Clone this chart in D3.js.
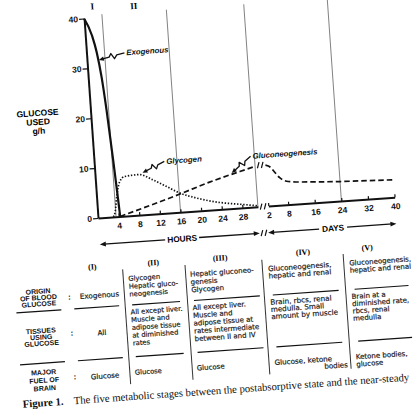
<!DOCTYPE html>
<html>
<head>
<meta charset="utf-8">
<title>Glucose used: five metabolic stages</title>
<script src="https://d3js.org/d3.v7.min.js"></script>
<style>
  body { margin: 0; background: #fff; }
  svg { display: block; }
  .axis path { stroke: #111; stroke-width: 2; }
  .axis line { stroke: #111; stroke-width: 1.2; }
  .axis text { font: bold 8.5px "Liberation Sans", sans-serif; fill: #111; }
  .cell { font-family: "DejaVu Sans", sans-serif; fill: #1c1c1c; stroke: #1c1c1c; stroke-width: 0.2px; }
  .rowlab { font: bold 7px "Liberation Sans", sans-serif; fill: #111; }
  .curvelab { font: italic bold 7.8px "Liberation Sans", sans-serif; fill: #111; }
</style>
</head>
<body>
<div id="chart"></div>
<script>

// values (g/h of glucose used)
var yTicks = [0, 10, 20, 30, 40];
var hourTicks = [4, 8, 12, 16, 20, 24, 28];
var dayTicks = [2, 8, 16, 24, 32, 40];

// [hour, g/h]
var exogenous = [[0, 40], [1.3, 36.5], [2, 33], [2.6, 28], [3.1, 21.5], [3.7, 11.5], [4.1, 4], [4.3, 0]];
var glycogen = [[3, 0], [3.4, 1], [3.9, 4], [4.7, 7], [5.7, 7.9], [8.5, 8.1], [11, 6.9], [13.7, 5.3],
                [16, 3.9], [19.3, 2.6], [23.7, 1.4], [28, 0.7], [31, 0.2]];
var gluconeoHours = [[4.3, 0], [16, 3.6], [22, 5.6], [28, 7.3], [31, 8.1]];
// [day, g/h]
var gluconeoDays = [[2, 8.2], [3.5, 7.7], [4.7, 6.6], [6, 5.5], [8, 4.7], [10, 4.5], [16, 4.2],
                    [24, 3.9], [32, 3.7], [40, 3.5]];

// stage boundaries (hours, then days); only the first two stage numerals show above the crop
var stageHours = [3.5, 16, 31];
var stageDays = [24];
var stageNames = ["I", "II"];

// table below the graph
var tableHeads = ["(I)", "(II)", "(III)", "(IV)", "(V)"];
var rowLabels = [["ORIGIN", "OF BLOOD", "GLUCOSE"], ["TISSUES", "USING", "GLUCOSE"], ["MAJOR", "FUEL OF", "BRAIN"]];
var originRow = [["Exogenous"], ["Glycogen", "Hepatic gluco-", "neogenesis"], ["Hepatic gluconeo-", "genesis", "Glycogen"],
                 ["Gluconeogenesis,", "hepatic and renal"], ["Gluconeogenesis,", "hepatic and renal"]];
var tissueRow = [["All"], ["All except liver.", "Muscle and", "adipose tissue", "at diminished", "rates"],
                 ["All except liver.", "Muscle and", "adipose tissue at", "rates intermediate", "between II and IV"],
                 ["Brain, rbcs, renal", "medulla. Small", "amount by muscle"],
                 ["Brain at a", "diminished rate,", "rbcs, renal", "medulla"]];
var fuelRow = [["Glucose"], ["Glucose"], ["Glucose"], ["Glucose, ketone", "bodies"], ["Ketone bodies,", "glucose"]];

var W = 415, H = 409;
var svg = d3.select("#chart").append("svg").attr("width", W).attr("height", H);
svg.append("rect").attr("width", W).attr("height", H).attr("fill", "#fff");

// the scanned page sits tilted by about 4 degrees
var g = svg.append("g").attr("transform", "rotate(-4,98,218)");

var xh = d3.scaleLinear().domain([0, 31]).range([98, 258.3]);
var xd = d3.scaleLinear().domain([2, 40]).range([268.7, 395.3]);
var y = d3.scaleLinear().domain([0, 40]).range([218, 18]);

// stage divisions
var stageX = stageHours.map(xh).concat(stageDays.map(xd));
g.selectAll(".stage").data(stageX).enter().append("line")
    .attr("x1", d => d).attr("x2", d => d)
    .attr("y1", y(0)).attr("y2", y(40.6))
    .attr("stroke", "#777").attr("stroke-width", 0.9);

var bounds = [xh(0)].concat(stageX);
g.selectAll(".stagename").data(stageNames).enter().append("text")
    .attr("x", (d, i) => (bounds[i] + bounds[i + 1]) / 2)
    .attr("y", (d, i) => 9.5 + i * 2.5)
    .attr("text-anchor", "middle")
    .style("font", "bold 9px 'Liberation Serif', serif")
    .text(d => d);

// axes
g.append("g").attr("class", "axis").attr("transform", "translate(98,0)")
    .call(d3.axisLeft(y).tickValues(yTicks).tickSizeInner(5).tickSizeOuter(0).tickPadding(1));
g.append("g").attr("class", "axis").attr("transform", "translate(0,218)")
    .call(d3.axisBottom(xh).tickValues(hourTicks).tickSizeInner(-3).tickSizeOuter(0).tickPadding(6));
g.append("g").attr("class", "axis").attr("transform", "translate(0,218)")
    .call(d3.axisBottom(xd).tickValues(dayTicks).tickSizeInner(-3).tickSizeOuter(0).tickPadding(6));

// y axis title
g.append("text").attr("text-anchor", "middle").attr("x", 45)
    .style("font", "bold 8.5px 'Liberation Sans', sans-serif")
    .selectAll("tspan").data(["GLUCOSE", "USED", "g/h"]).enter().append("tspan")
    .attr("x", 45).attr("y", (d, i) => 112 + i * 9).text(d => d);

// curves
var lineH = d3.line().x(d => xh(d[0])).y(d => y(d[1])).curve(d3.curveMonotoneX);
var lineD = d3.line().x(d => xd(d[0])).y(d => y(d[1])).curve(d3.curveMonotoneX);

g.append("path").attr("d", lineH(glycogen)).attr("fill", "none")
    .attr("stroke", "#111").attr("stroke-width", 1.7).attr("stroke-dasharray", "1.4,1.7");
g.append("path").attr("d", lineH(gluconeoHours)).attr("fill", "none")
    .attr("stroke", "#111").attr("stroke-width", 1.7).attr("stroke-dasharray", "5.5,3");
g.append("path").attr("d", lineD(gluconeoDays)).attr("fill", "none")
    .attr("stroke", "#111").attr("stroke-width", 1.7).attr("stroke-dasharray", "5.5,3");
g.append("path").attr("d", lineH(exogenous)).attr("fill", "none")
    .attr("stroke", "#111").attr("stroke-width", 2.2).attr("stroke-linejoin", "round");

// break marks //
function breakMark(x, yy) {
    g.append("path")
        .attr("d", "M" + (x - 3) + "," + (yy + 3) + "L" + (x - 1) + "," + (yy - 3) +
                   "M" + (x + 1) + "," + (yy + 3) + "L" + (x + 3) + "," + (yy - 3))
        .attr("stroke", "#111").attr("stroke-width", 1.2).attr("fill", "none");
}
var xBreak = (xh(31) + xd(2)) / 2;
breakMark(xBreak, y(0));
breakMark(xBreak, y(8.3));
breakMark(xBreak - 1, 244.5);

// curve labels with zigzag pointers
var notes = [
    { text: "Exogenous", at: [2.3, 31.5], dx: 27.5, dy: -5.5 },
    { text: "Glycogen", at: [9.2, 8.4], dx: 24, dy: -9.8 },
    { text: "Gluconeogenesis", at: [26.4, 7.1], dx: 21.5, dy: -15.5 }
];
notes.forEach(function (n) {
    var tx = xh(n.at[0]), ty = y(n.at[1]);
    var sx = tx + n.dx - 1.5, sy = ty + n.dy;
    var vx = tx - sx, vy = ty - sy, L = Math.sqrt(vx * vx + vy * vy);
    var ux = vx / L, uy = vy / L, nx = -uy, ny = ux;
    function pt(t, o) { return [sx + vx * t + nx * o, sy + vy * t + ny * o]; }
    var pts = [[sx, sy], pt(0.3, 0), pt(0.42, -3), pt(0.5, 3), pt(0.6, 0), [tx - ux * 4, ty - uy * 4]];
    g.append("path").attr("d", d3.line()(pts)).attr("fill", "none")
        .attr("stroke", "#111").attr("stroke-width", 1.3).attr("stroke-linejoin", "round");
    var head = [[tx, ty], [tx - ux * 5 + nx * 2.2, ty - uy * 5 + ny * 2.2], [tx - ux * 5 - nx * 2.2, ty - uy * 5 - ny * 2.2]];
    g.append("path").attr("d", d3.line()(head) + "Z").attr("fill", "#111");
    g.append("text").attr("class", "curvelab").attr("x", sx + 2).attr("y", sy + 2.6).text(n.text);
});

// HOURS and DAYS arrows
function spanArrow(x1, x2, yy, label, lx, gap) {
    g.append("path")
        .attr("d", "M" + (x1 + 4) + "," + yy + "H" + (lx - gap) + "M" + (lx + gap) + "," + yy + "H" + (x2 - 4))
        .attr("stroke", "#111").attr("stroke-width", 1.3);
    g.append("path").attr("d", "M" + x1 + "," + yy + "l6,-2.4v4.8Z").attr("fill", "#111");
    g.append("path").attr("d", "M" + x2 + "," + yy + "l-6,-2.4v4.8Z").attr("fill", "#111");
    g.append("text").attr("x", lx).attr("y", yy + 3).attr("text-anchor", "middle")
        .style("font", "bold 8.3px 'Liberation Sans', sans-serif").text(label);
}
spanArrow(xh(0), xh(31), 244.5, "HOURS", 180.5, 17);
spanArrow(xd(2) - 2, xd(40), 244.5, "DAYS", 331.8, 14);

// table
var dividers = [119, 181.5, 258.5, 340];
g.selectAll(".divider").data(dividers).enter().append("line")
    .attr("x1", d => d).attr("x2", d => d).attr("y1", 271).attr("y2", 386)
    .attr("stroke", "#333").attr("stroke-width", 1);

var sepX = [[10, 55], [68, 113], [126, 174], [188, 254], [267, 333], [349, 403]];
[307, 359].forEach(function (sy) {
    g.selectAll(null).data(sepX).enter().append("line")
        .attr("x1", d => d[0]).attr("x2", d => d[1]).attr("y1", sy).attr("y2", sy)
        .attr("stroke", "#111").attr("stroke-width", 1.2);
});

var headX = [89, 150, 217, 300, 364.5];
g.selectAll(".head").data(tableHeads).enter().append("text")
    .attr("x", (d, i) => headX[i]).attr("y", 269).attr("text-anchor", "middle")
    .style("font", "bold 8px 'Liberation Serif', serif").text(d => d);

var labelY = [[287, 6.3], [326.5, 6.3], [368, 8]];
rowLabels.forEach(function (lines, r) {
    g.append("text").attr("class", "rowlab").attr("text-anchor", "middle")
        .selectAll("tspan").data(lines).enter().append("tspan")
        .attr("x", 33).attr("y", (d, i) => labelY[r][0] + i * labelY[r][1] + 2.5).text(d => d);
    g.append("text").attr("x", 64).attr("y", [295, 331, 375][r] + 2.5)
        .attr("text-anchor", "middle").style("font", "bold 8px 'Liberation Sans', sans-serif").text(":");
});

var colX = [94, 124, 186, 264, 345.5];
var colSize = [7.2, 6.8, 7, 7.2, 7];
var colGap = [8, 7.8, 7.8, 7.2, 7.3];
var rowFirst = [280.5, 314, 374.5];
var rowMid = [295, 332.5, 376];
[originRow, tissueRow, fuelRow].forEach(function (row, r) {
    row.forEach(function (lines, c) {
        var t = g.append("text").attr("class", "cell").style("font-size", colSize[c] + "px")
            .attr("text-anchor", c === 0 ? "middle" : "start");
        t.selectAll("tspan").data(lines).enter().append("tspan")
            .attr("x", (d, i) => (r === 2 && c === 3 && i === 1) ? 337 : colX[c])
            .attr("text-anchor", (d, i) => (r === 2 && c === 3 && i === 1) ? "end" : null)
            .attr("y", (d, i) => (c === 0 ? rowMid[r] : rowFirst[r]) + i * colGap[c] + colSize[c] * 0.36)
            .text(d => d);
    });
});

// caption
var cap = g.append("text").attr("x", 10).attr("y", 402)
    .style("font", "10.7px 'Liberation Serif', serif").attr("fill", "#111");
cap.append("tspan").style("font-weight", "bold").text("Figure 1.");
cap.append("tspan").attr("x", 61)
    .text("The five metabolic stages between the postabsorptive state and the near-steady");

</script>
</body>
</html>
